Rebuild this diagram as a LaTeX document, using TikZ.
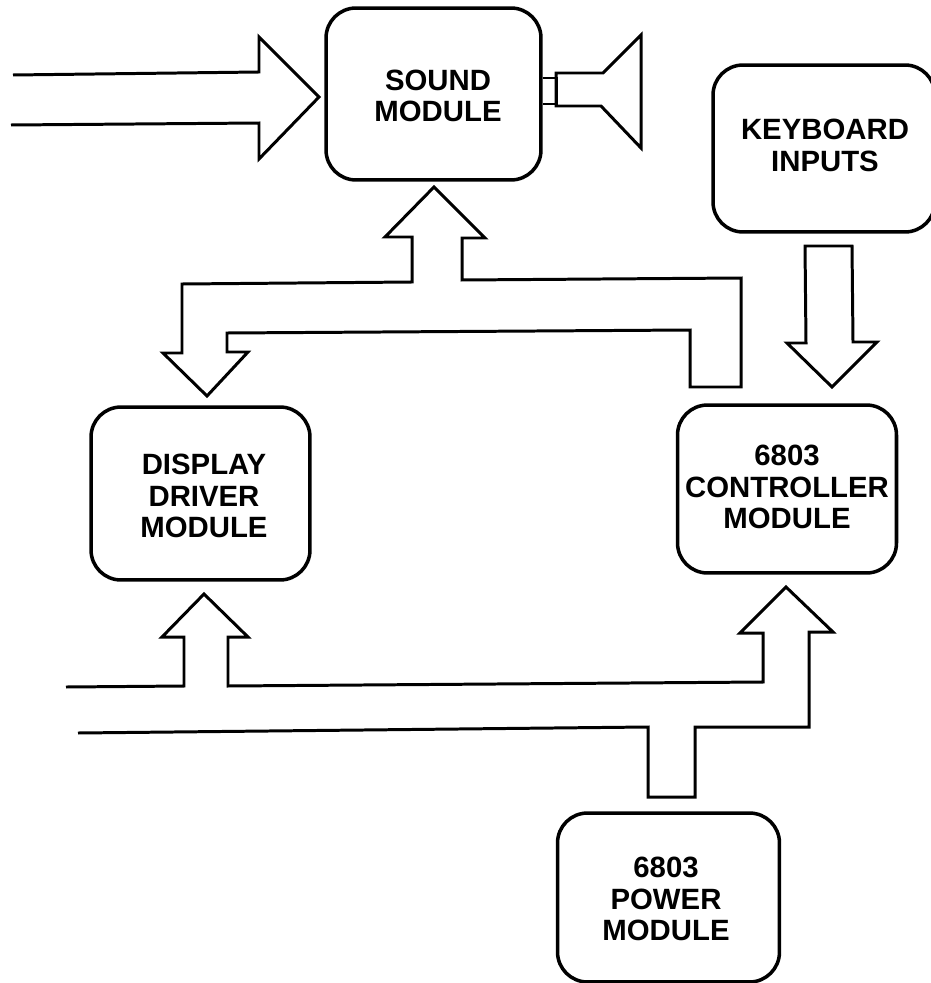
\documentclass[tikz,border=0pt]{standalone}
\usepackage{fontspec}
\setmainfont{Liberation Sans}
\usetikzlibrary{positioning}
\tikzset{
  modbox/.style={draw=black, line width=2pt, rounded corners=0.6cm, minimum width=4.38cm, minimum height=3.42cm, inner sep=0pt},
  modtext/.style={font=\fontsize{16.7}{17.8}\selectfont\bfseries, align=center, inner sep=0pt},
  busline/.style={draw=black, line width=1.7pt, line join=miter}
}
\begin{document}
\begin{tikzpicture}[x=0.02cm, y=-0.02cm]
\useasboundingbox (0,0) rectangle (930,983);
% Module boxes
\node[modbox, minimum width=4.3cm, minimum height=3.44cm] (sound) at (433.5,94) {};
\node[modbox, minimum width=4.44cm, minimum height=3.34cm] (keyboard) at (824,148.5) {};
\node[modbox, minimum height=3.46cm] (display) at (200.5,493.5) {};
\node[modbox, minimum height=3.36cm] (controller) at (787,489) {};
\node[modbox, minimum width=4.44cm, minimum height=3.38cm] (power) at (668.5,897.5) {};
% Module names
\node[modtext] (soundname) at (438,96) {SOUND\\MODULE};
\node[modtext] (keyboardname) at (825,145.5) {KEYBOARD\\INPUTS};
\node[modtext] (displayname) at (204,496) {DISPLAY\\DRIVER\\MODULE};
\node[modtext] (controllername) at (787,487) {6803\\CONTROLLER\\MODULE};
\node[modtext] (powername) at (666,899) {6803\\POWER\\MODULE};
% Free ends of the buses
\coordinate (inupper) at (13,75);
\coordinate (inlower) at (11,125);
\coordinate (auxupper) at (66,687);
\coordinate (auxlower) at (78,733);
% Named arrow tips
\coordinate (soundtip) at (319,97);
\coordinate (bustip) at (434,187);
\coordinate (drivetip) at (207,396);
\coordinate (keytip) at (832,387);
\coordinate (displaytip) at (204,594);
\coordinate (controltip) at (786,587);
% Input arrow to sound module
\draw[busline] (inupper) -- (259,72) -- (259,37) -- (soundtip) -- (259,159) -- (259,123) -- (inlower);
% Speaker
\draw[busline] (sound.east |- 0,78) -- (556,78) -- (556,104) -- (sound.east |- 0,104);
\draw[busline] (556,73) -- (603,73) -- (641,35) -- (641,148) -- (601,106) -- (556,106) -- cycle;
% Bus between sound, display driver and controller
\draw[busline] (bustip) -- (485,238) -- (462,238) -- (462,280) -- (741,278) -- (741,387)
  -- (690,387) -- (690,330) -- (227,333) -- (227,352) -- (248,352) -- (drivetip)
  -- (163,353) -- (182,353) -- (182,284) -- (412,282) -- (412,237) -- (385,237) -- cycle;
% Keyboard arrow
\draw[busline] (805,246) -- (852,246) -- (853,342) -- (877,342) -- (keytip) -- (787,343) -- (806,343) -- cycle;
% Lower bus with display and controller arrows
\draw[busline] (auxupper) -- (184,686) -- (184,637) -- (162,637) -- (displaytip) -- (248,637) -- (228,637)
  -- (228,686) -- (763,682) -- (763,633) -- (740,633) -- (controltip) -- (833,632) -- (809,632)
  -- (809,727) -- (695,727) -- (695,797) -- (648,797) -- (648,727) -- (auxlower);
\end{tikzpicture}
\end{document}
